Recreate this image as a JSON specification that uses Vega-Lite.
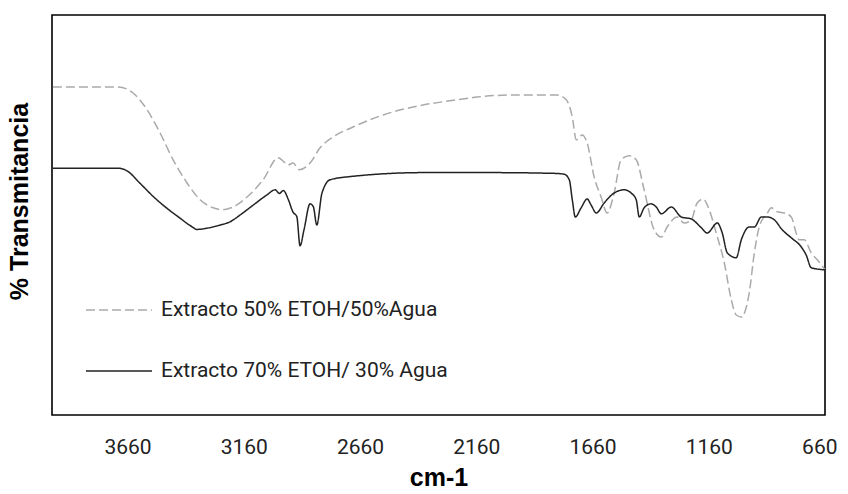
{
  "$schema": "https://vega.github.io/schema/vega-lite/v6.json",
  "width": 773,
  "height": 400,
  "autosize": {"type": "none"},
  "padding": {"left": 52, "top": 15, "right": 23, "bottom": 79},
  "background": "white",
  "config": {
    "view": {"stroke": "#000000", "strokeWidth": 1.6},
    "font": "Roboto"
  },
  "datasets": {
    "d": [
      {"serie": "Extracto 50% ETOH/50%Agua", "wn": 3981, "t": 82.0},
      {"serie": "Extracto 50% ETOH/50%Agua", "wn": 3701, "t": 82.0},
      {"serie": "Extracto 50% ETOH/50%Agua", "wn": 3636, "t": 80.5},
      {"serie": "Extracto 50% ETOH/50%Agua", "wn": 3576, "t": 76.3},
      {"serie": "Extracto 50% ETOH/50%Agua", "wn": 3520, "t": 70.5},
      {"serie": "Extracto 50% ETOH/50%Agua", "wn": 3464, "t": 63.8},
      {"serie": "Extracto 50% ETOH/50%Agua", "wn": 3404, "t": 58.0},
      {"serie": "Extracto 50% ETOH/50%Agua", "wn": 3348, "t": 53.8},
      {"serie": "Extracto 50% ETOH/50%Agua", "wn": 3292, "t": 51.8},
      {"serie": "Extracto 50% ETOH/50%Agua", "wn": 3253, "t": 51.3},
      {"serie": "Extracto 50% ETOH/50%Agua", "wn": 3206, "t": 52.0},
      {"serie": "Extracto 50% ETOH/50%Agua", "wn": 3146, "t": 54.5},
      {"serie": "Extracto 50% ETOH/50%Agua", "wn": 3077, "t": 58.8},
      {"serie": "Extracto 50% ETOH/50%Agua", "wn": 3012, "t": 64.3},
      {"serie": "Extracto 50% ETOH/50%Agua", "wn": 2982, "t": 63.0},
      {"serie": "Extracto 50% ETOH/50%Agua", "wn": 2969, "t": 62.5},
      {"serie": "Extracto 50% ETOH/50%Agua", "wn": 2948, "t": 63.0},
      {"serie": "Extracto 50% ETOH/50%Agua", "wn": 2922, "t": 61.3},
      {"serie": "Extracto 50% ETOH/50%Agua", "wn": 2875, "t": 63.0},
      {"serie": "Extracto 50% ETOH/50%Agua", "wn": 2832, "t": 66.8},
      {"serie": "Extracto 50% ETOH/50%Agua", "wn": 2776, "t": 69.5},
      {"serie": "Extracto 50% ETOH/50%Agua", "wn": 2690, "t": 72.0},
      {"serie": "Extracto 50% ETOH/50%Agua", "wn": 2561, "t": 75.0},
      {"serie": "Extracto 50% ETOH/50%Agua", "wn": 2389, "t": 77.5},
      {"serie": "Extracto 50% ETOH/50%Agua", "wn": 2242, "t": 78.8},
      {"serie": "Extracto 50% ETOH/50%Agua", "wn": 2156, "t": 79.5},
      {"serie": "Extracto 50% ETOH/50%Agua", "wn": 1997, "t": 80.0},
      {"serie": "Extracto 50% ETOH/50%Agua", "wn": 1812, "t": 80.0},
      {"serie": "Extracto 50% ETOH/50%Agua", "wn": 1773, "t": 78.8},
      {"serie": "Extracto 50% ETOH/50%Agua", "wn": 1747, "t": 74.5},
      {"serie": "Extracto 50% ETOH/50%Agua", "wn": 1730, "t": 68.8},
      {"serie": "Extracto 50% ETOH/50%Agua", "wn": 1704, "t": 70.0},
      {"serie": "Extracto 50% ETOH/50%Agua", "wn": 1683, "t": 68.0},
      {"serie": "Extracto 50% ETOH/50%Agua", "wn": 1653, "t": 59.5},
      {"serie": "Extracto 50% ETOH/50%Agua", "wn": 1623, "t": 54.5},
      {"serie": "Extracto 50% ETOH/50%Agua", "wn": 1597, "t": 50.5},
      {"serie": "Extracto 50% ETOH/50%Agua", "wn": 1567, "t": 55.5},
      {"serie": "Extracto 50% ETOH/50%Agua", "wn": 1537, "t": 63.8},
      {"serie": "Extracto 50% ETOH/50%Agua", "wn": 1502, "t": 64.8},
      {"serie": "Extracto 50% ETOH/50%Agua", "wn": 1472, "t": 63.8},
      {"serie": "Extracto 50% ETOH/50%Agua", "wn": 1438, "t": 56.3},
      {"serie": "Extracto 50% ETOH/50%Agua", "wn": 1395, "t": 46.3},
      {"serie": "Extracto 50% ETOH/50%Agua", "wn": 1364, "t": 44.5},
      {"serie": "Extracto 50% ETOH/50%Agua", "wn": 1339, "t": 47.0},
      {"serie": "Extracto 50% ETOH/50%Agua", "wn": 1296, "t": 49.5},
      {"serie": "Extracto 50% ETOH/50%Agua", "wn": 1266, "t": 48.0},
      {"serie": "Extracto 50% ETOH/50%Agua", "wn": 1235, "t": 48.8},
      {"serie": "Extracto 50% ETOH/50%Agua", "wn": 1210, "t": 53.0},
      {"serie": "Extracto 50% ETOH/50%Agua", "wn": 1184, "t": 54.0},
      {"serie": "Extracto 50% ETOH/50%Agua", "wn": 1158, "t": 51.3},
      {"serie": "Extracto 50% ETOH/50%Agua", "wn": 1128, "t": 45.5},
      {"serie": "Extracto 50% ETOH/50%Agua", "wn": 1093, "t": 38.0},
      {"serie": "Extracto 50% ETOH/50%Agua", "wn": 1063, "t": 28.8},
      {"serie": "Extracto 50% ETOH/50%Agua", "wn": 1042, "t": 25.0},
      {"serie": "Extracto 50% ETOH/50%Agua", "wn": 1020, "t": 24.5},
      {"serie": "Extracto 50% ETOH/50%Agua", "wn": 986, "t": 30.5},
      {"serie": "Extracto 50% ETOH/50%Agua", "wn": 964, "t": 40.5},
      {"serie": "Extracto 50% ETOH/50%Agua", "wn": 943, "t": 47.0},
      {"serie": "Extracto 50% ETOH/50%Agua", "wn": 908, "t": 50.5},
      {"serie": "Extracto 50% ETOH/50%Agua", "wn": 891, "t": 51.8},
      {"serie": "Extracto 50% ETOH/50%Agua", "wn": 865, "t": 50.8},
      {"serie": "Extracto 50% ETOH/50%Agua", "wn": 835, "t": 50.5},
      {"serie": "Extracto 50% ETOH/50%Agua", "wn": 805, "t": 49.5},
      {"serie": "Extracto 50% ETOH/50%Agua", "wn": 784, "t": 45.5},
      {"serie": "Extracto 50% ETOH/50%Agua", "wn": 771, "t": 43.8},
      {"serie": "Extracto 50% ETOH/50%Agua", "wn": 749, "t": 43.8},
      {"serie": "Extracto 50% ETOH/50%Agua", "wn": 719, "t": 40.5},
      {"serie": "Extracto 50% ETOH/50%Agua", "wn": 693, "t": 38.8},
      {"serie": "Extracto 50% ETOH/50%Agua", "wn": 660, "t": 36.3},
      {"serie": "Extracto 70% ETOH/ 30% Agua", "wn": 3981, "t": 61.7},
      {"serie": "Extracto 70% ETOH/ 30% Agua", "wn": 3700, "t": 61.7},
      {"serie": "Extracto 70% ETOH/ 30% Agua", "wn": 3664, "t": 61.1},
      {"serie": "Extracto 70% ETOH/ 30% Agua", "wn": 3606, "t": 57.9},
      {"serie": "Extracto 70% ETOH/ 30% Agua", "wn": 3549, "t": 54.6},
      {"serie": "Extracto 70% ETOH/ 30% Agua", "wn": 3491, "t": 51.7},
      {"serie": "Extracto 70% ETOH/ 30% Agua", "wn": 3434, "t": 49.2},
      {"serie": "Extracto 70% ETOH/ 30% Agua", "wn": 3384, "t": 47.1},
      {"serie": "Extracto 70% ETOH/ 30% Agua", "wn": 3362, "t": 46.4},
      {"serie": "Extracto 70% ETOH/ 30% Agua", "wn": 3319, "t": 46.7},
      {"serie": "Extracto 70% ETOH/ 30% Agua", "wn": 3262, "t": 47.5},
      {"serie": "Extracto 70% ETOH/ 30% Agua", "wn": 3219, "t": 48.3},
      {"serie": "Extracto 70% ETOH/ 30% Agua", "wn": 3176, "t": 50.0},
      {"serie": "Extracto 70% ETOH/ 30% Agua", "wn": 3119, "t": 52.5},
      {"serie": "Extracto 70% ETOH/ 30% Agua", "wn": 3061, "t": 55.0},
      {"serie": "Extracto 70% ETOH/ 30% Agua", "wn": 3025, "t": 56.3},
      {"serie": "Extracto 70% ETOH/ 30% Agua", "wn": 3007, "t": 55.4},
      {"serie": "Extracto 70% ETOH/ 30% Agua", "wn": 2990, "t": 56.1},
      {"serie": "Extracto 70% ETOH/ 30% Agua", "wn": 2968, "t": 53.8},
      {"serie": "Extracto 70% ETOH/ 30% Agua", "wn": 2949, "t": 50.8},
      {"serie": "Extracto 70% ETOH/ 30% Agua", "wn": 2932, "t": 49.6},
      {"serie": "Extracto 70% ETOH/ 30% Agua", "wn": 2918, "t": 42.3},
      {"serie": "Extracto 70% ETOH/ 30% Agua", "wn": 2901, "t": 46.3},
      {"serie": "Extracto 70% ETOH/ 30% Agua", "wn": 2875, "t": 52.8},
      {"serie": "Extracto 70% ETOH/ 30% Agua", "wn": 2861, "t": 52.1},
      {"serie": "Extracto 70% ETOH/ 30% Agua", "wn": 2846, "t": 47.5},
      {"serie": "Extracto 70% ETOH/ 30% Agua", "wn": 2824, "t": 55.4},
      {"serie": "Extracto 70% ETOH/ 30% Agua", "wn": 2789, "t": 58.8},
      {"serie": "Extracto 70% ETOH/ 30% Agua", "wn": 2703, "t": 59.6},
      {"serie": "Extracto 70% ETOH/ 30% Agua", "wn": 2387, "t": 60.6},
      {"serie": "Extracto 70% ETOH/ 30% Agua", "wn": 2100, "t": 60.6},
      {"serie": "Extracto 70% ETOH/ 30% Agua", "wn": 1821, "t": 60.4},
      {"serie": "Extracto 70% ETOH/ 30% Agua", "wn": 1782, "t": 60.2},
      {"serie": "Extracto 70% ETOH/ 30% Agua", "wn": 1760, "t": 58.8},
      {"serie": "Extracto 70% ETOH/ 30% Agua", "wn": 1747, "t": 53.8},
      {"serie": "Extracto 70% ETOH/ 30% Agua", "wn": 1734, "t": 49.5},
      {"serie": "Extracto 70% ETOH/ 30% Agua", "wn": 1709, "t": 51.8},
      {"serie": "Extracto 70% ETOH/ 30% Agua", "wn": 1683, "t": 54.0},
      {"serie": "Extracto 70% ETOH/ 30% Agua", "wn": 1666, "t": 52.5},
      {"serie": "Extracto 70% ETOH/ 30% Agua", "wn": 1644, "t": 50.5},
      {"serie": "Extracto 70% ETOH/ 30% Agua", "wn": 1610, "t": 53.0},
      {"serie": "Extracto 70% ETOH/ 30% Agua", "wn": 1567, "t": 55.5},
      {"serie": "Extracto 70% ETOH/ 30% Agua", "wn": 1524, "t": 56.3},
      {"serie": "Extracto 70% ETOH/ 30% Agua", "wn": 1494, "t": 55.5},
      {"serie": "Extracto 70% ETOH/ 30% Agua", "wn": 1472, "t": 53.8},
      {"serie": "Extracto 70% ETOH/ 30% Agua", "wn": 1459, "t": 49.5},
      {"serie": "Extracto 70% ETOH/ 30% Agua", "wn": 1438, "t": 51.8},
      {"serie": "Extracto 70% ETOH/ 30% Agua", "wn": 1408, "t": 52.8},
      {"serie": "Extracto 70% ETOH/ 30% Agua", "wn": 1386, "t": 52.0},
      {"serie": "Extracto 70% ETOH/ 30% Agua", "wn": 1364, "t": 50.3},
      {"serie": "Extracto 70% ETOH/ 30% Agua", "wn": 1321, "t": 52.0},
      {"serie": "Extracto 70% ETOH/ 30% Agua", "wn": 1278, "t": 49.5},
      {"serie": "Extracto 70% ETOH/ 30% Agua", "wn": 1235, "t": 49.0},
      {"serie": "Extracto 70% ETOH/ 30% Agua", "wn": 1192, "t": 46.8},
      {"serie": "Extracto 70% ETOH/ 30% Agua", "wn": 1167, "t": 45.5},
      {"serie": "Extracto 70% ETOH/ 30% Agua", "wn": 1123, "t": 48.0},
      {"serie": "Extracto 70% ETOH/ 30% Agua", "wn": 1102, "t": 45.5},
      {"serie": "Extracto 70% ETOH/ 30% Agua", "wn": 1080, "t": 40.5},
      {"serie": "Extracto 70% ETOH/ 30% Agua", "wn": 1042, "t": 39.3},
      {"serie": "Extracto 70% ETOH/ 30% Agua", "wn": 1020, "t": 43.8},
      {"serie": "Extracto 70% ETOH/ 30% Agua", "wn": 986, "t": 47.0},
      {"serie": "Extracto 70% ETOH/ 30% Agua", "wn": 964, "t": 47.0},
      {"serie": "Extracto 70% ETOH/ 30% Agua", "wn": 934, "t": 49.5},
      {"serie": "Extracto 70% ETOH/ 30% Agua", "wn": 908, "t": 49.5},
      {"serie": "Extracto 70% ETOH/ 30% Agua", "wn": 878, "t": 48.8},
      {"serie": "Extracto 70% ETOH/ 30% Agua", "wn": 844, "t": 46.3},
      {"serie": "Extracto 70% ETOH/ 30% Agua", "wn": 805, "t": 44.3},
      {"serie": "Extracto 70% ETOH/ 30% Agua", "wn": 762, "t": 42.0},
      {"serie": "Extracto 70% ETOH/ 30% Agua", "wn": 741, "t": 40.0},
      {"serie": "Extracto 70% ETOH/ 30% Agua", "wn": 719, "t": 36.8},
      {"serie": "Extracto 70% ETOH/ 30% Agua", "wn": 660, "t": 36.3}
    ]
  },
  "data": {"name": "d"},
  "mark": {"type": "line", "strokeWidth": 1.5, "interpolate": "monotone", "clip": true},
  "encoding": {
    "x": {
      "field": "wn",
      "type": "quantitative",
      "scale": {"domain": [660, 3985], "reverse": true, "nice": false, "zero": false},
      "axis": {
        "title": "cm-1",
        "titleFont": "Liberation Sans",
        "titleFontSize": 25,
        "titleFontWeight": "bold",
        "titleColor": "#000000",
        "titlePadding": 8,
        "values": [3660, 3160, 2660, 2160, 1660, 1160, 660],
        "format": "d",
        "labelFont": "Roboto",
        "labelFontSize": 21,
        "labelColor": "#222222",
        "labelPadding": 21,
        "labelFlush": 5,
        "labelFlushOffset": 12,
        "ticks": false,
        "domain": false,
        "grid": false
      }
    },
    "y": {
      "field": "t",
      "type": "quantitative",
      "scale": {"domain": [0, 100], "nice": false, "zero": false},
      "axis": {
        "title": "% Transmitancia",
        "titleFont": "Liberation Sans",
        "titleFontSize": 25,
        "titleFontWeight": "bold",
        "titleColor": "#000000",
        "titlePadding": 20,
        "titleY": 186,
        "labels": false,
        "ticks": false,
        "domain": false,
        "grid": false
      }
    },
    "color": {
      "field": "serie",
      "type": "nominal",
      "scale": {
        "domain": ["Extracto 50% ETOH/50%Agua", "Extracto 70% ETOH/ 30% Agua"],
        "range": ["#aaaaaa", "#222222"]
      },
      "legend": {
        "title": null,
        "orient": "none",
        "legendX": 33,
        "legendY": 261,
        "padding": 0,
        "symbolType": "stroke",
        "symbolSize": 4356,
        "symbolStrokeWidth": 1.5,
        "labelFont": "Roboto",
        "labelFontSize": 21,
        "labelColor": "#222222",
        "labelOffset": 8,
        "rowPadding": 17,
        "labelLimit": 400
      }
    },
    "strokeDash": {
      "field": "serie",
      "type": "nominal",
      "scale": {
        "domain": ["Extracto 50% ETOH/50%Agua", "Extracto 70% ETOH/ 30% Agua"],
        "range": [[9, 4], [1, 0]]
      },
      "legend": {
        "title": null,
        "orient": "none",
        "legendX": 33,
        "legendY": 261,
        "padding": 0,
        "symbolType": "stroke",
        "symbolSize": 4356,
        "symbolStrokeWidth": 1.5,
        "labelFont": "Roboto",
        "labelFontSize": 21,
        "labelColor": "#222222",
        "labelOffset": 8,
        "rowPadding": 17,
        "labelLimit": 400
      }
    }
  }
}
